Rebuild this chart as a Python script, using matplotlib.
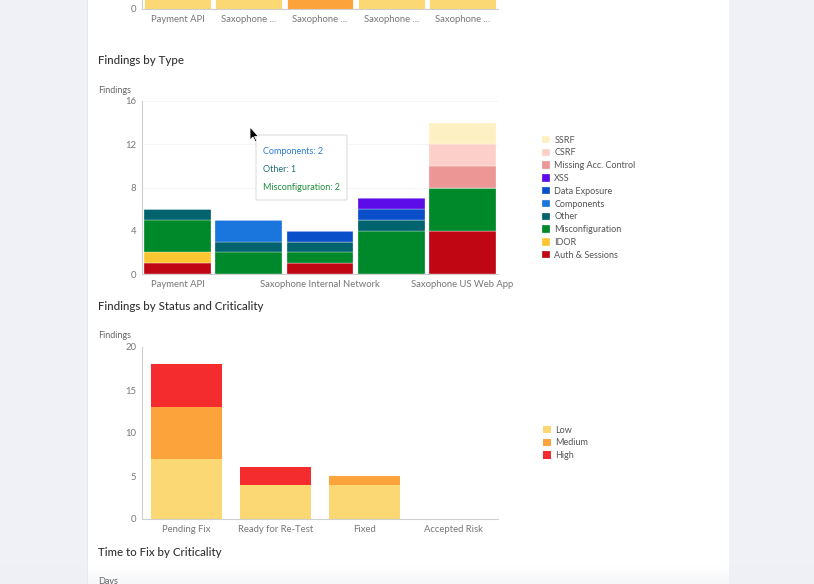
import numpy as np
import matplotlib
matplotlib.use("Agg")
import matplotlib.pyplot as plt
from matplotlib.patches import Rectangle, FancyBboxPatch, Polygon

plt.rcParams['font.family'] = ['Lato', 'DejaVu Sans']

W, H = 814, 584

# ---- data ----
assets = ["Payment API", "Saxophone External Network", "Saxophone Internal Network",
          "Saxophone Mobile App", "Saxophone US Web App"]
asset_short = ["Payment API", "Saxophone ...", "Saxophone ...", "Saxophone ...", "Saxophone ..."]

# top chart (only its bottom is visible)
crit_names = ["Low", "Medium", "High"]
asset_low = [3, 2, 0, 2, 3]
asset_medium = [2, 1, 3, 2, 1]
asset_high = [1, 2, 1, 3, 10]

# findings by type, stacked bottom -> top
type_names = ["Auth & Sessions", "IDOR", "Misconfiguration", "Other", "Components",
              "Data Exposure", "XSS", "Missing Acc. Control", "CSRF", "SSRF"]
type_values = {
    "Auth & Sessions":      [1, 0, 1, 0, 4],
    "IDOR":                 [1, 0, 0, 0, 0],
    "Misconfiguration":     [3, 2, 1, 4, 4],
    "Other":                [1, 1, 1, 1, 0],
    "Components":           [0, 2, 0, 0, 0],
    "Data Exposure":        [0, 0, 1, 1, 0],
    "XSS":                  [0, 0, 0, 1, 0],
    "Missing Acc. Control": [0, 0, 0, 0, 2],
    "CSRF":                 [0, 0, 0, 0, 2],
    "SSRF":                 [0, 0, 0, 0, 2],
}
type_colors = {
    "Auth & Sessions": "#bf0612", "IDOR": "#fcc631", "Misconfiguration": "#00892a",
    "Other": "#00636e", "Components": "#1a75dc", "Data Exposure": "#0a4fc9",
    "XSS": "#5b0ce8", "Missing Acc. Control": "#ec9696", "CSRF": "#fcd0c8",
    "SSRF": "#fdf0c2",
}

# findings by status and criticality
statuses = ["Pending Fix", "Ready for Re-Test", "Fixed", "Accepted Risk"]
status_low = [7, 4, 4, 0]
status_medium = [6, 0, 1, 0]
status_high = [5, 2, 0, 0]
crit_colors = {"Low": "#fbd874", "Medium": "#fda33b", "High": "#f42c2e"}

# tooltip content
tooltip = [("Components: 2", "#2a7bd6"), ("Other: 1", "#1f6f78"), ("Misconfiguration: 2", "#1e8f3a")]

fig = plt.figure(figsize=(W / 100, H / 100), dpi=100)
fig.patch.set_facecolor("#eff1f6")


def fx(px):
    return px / W


def fy(py):
    return 1 - py / H


# white card
fig.patches.append(Rectangle((fx(87), 0), fx(729) - fx(87), 1, transform=fig.transFigure,
                             facecolor="white", edgecolor="none", zorder=-2))
fig.patches.append(Rectangle((fx(87), 0), fx(1), 1, transform=fig.transFigure,
                             facecolor="#e6e8ee", edgecolor="none", zorder=-1))

TICK = "#777777"
SPINE = "#cfcfcf"
TITLE = "#333333"


def style_axes(ax):
    for s in ["top", "right"]:
        ax.spines[s].set_visible(False)
    for s in ["left", "bottom"]:
        ax.spines[s].set_color(SPINE)
        ax.spines[s].set_linewidth(0.8)
    ax.tick_params(length=0, labelsize=6.8, colors=TICK, pad=4)
    ax.set_facecolor("none")


# ---- top chart (cut off) ----
ax0 = fig.add_axes([fx(142), fy(9), fx(498) - fx(142), 173 / H])
bottom = np.zeros(len(assets))
for name, vals in zip(crit_names, [asset_low, asset_medium, asset_high]):
    ax0.bar(np.arange(len(assets)), vals, 0.94, bottom=bottom, color=crit_colors[name],
            edgecolor="white", linewidth=0.6)
    bottom += np.array(vals)
ax0.set_xlim(-0.5, len(assets) - 0.5)
ax0.set_ylim(0, 16)
ax0.set_yticks([0])
ax0.set_xticks(np.arange(len(assets)))
ax0.set_xticklabels(asset_short)
style_axes(ax0)

# ---- Findings by Type ----
fig.text(fx(98), fy(61), "Findings by Type", fontsize=8.3, color=TITLE, va="center", weight="medium")
fig.text(fx(98), fy(90), "Findings", fontsize=6.5, color="#666666", va="center")
ax1 = fig.add_axes([fx(142), fy(274), fx(498) - fx(142), 173 / H])
x = np.arange(len(assets))
bottom = np.zeros(len(assets))
handles = []
for name in type_names:
    vals = np.array(type_values[name])
    b = ax1.bar(x, vals, 0.94, bottom=bottom, color=type_colors[name],
                edgecolor="white", linewidth=0.2, label=name)
    handles.append(b)
    bottom += vals
ax1.set_xlim(-0.5, len(assets) - 0.5)
ax1.set_ylim(0, 16)
ax1.set_yticks([0, 4, 8, 12, 16])
ax1.set_xticks(x)
ax1.set_xticklabels([a if i % 2 == 0 else "" for i, a in enumerate(assets)])
ax1.yaxis.grid(True, color="#f5f5f5", linewidth=0.6)
ax1.set_axisbelow(True)
style_axes(ax1)
leg1 = ax1.legend(handles[::-1], type_names[::-1], loc="upper left",
                  bbox_to_anchor=(fx(538), fy(132)), bbox_transform=fig.transFigure,
                  frameon=False, fontsize=6.5, labelcolor="#555555", handlelength=0.9,
                  handleheight=0.9, handletextpad=0.5, labelspacing=0.42, borderaxespad=0)

# tooltip
fig.patches.append(FancyBboxPatch((fx(256), fy(200)), fx(347) - fx(256), fy(135) - fy(200),
                                  boxstyle="round,pad=0,rounding_size=0.002",
                                  transform=fig.transFigure, facecolor="white",
                                  edgecolor="#dddddd", linewidth=0.8, zorder=5))
for i, (t, c) in enumerate(tooltip):
    fig.text(fx(263), fy(152 + 18 * i), t, fontsize=6.5, color=c, va="center", zorder=6)

# mouse cursor
cx, cy = 250, 127
pts = [(0, 0), (0, 13), (3, 10), (5.5, 15), (7, 14.3), (4.6, 9.5), (8.5, 9.5)]
fig.patches.append(Polygon([(fx(cx + a), fy(cy + b)) for a, b in pts], closed=True,
                           transform=fig.transFigure, facecolor="black",
                           edgecolor="white", linewidth=0.6, zorder=7))

# ---- Findings by Status and Criticality ----
fig.text(fx(98), fy(306), "Findings by Status and Criticality", fontsize=8.3, color=TITLE,
         va="center", weight="medium")
fig.text(fx(98), fy(335), "Findings", fontsize=6.5, color="#666666", va="center")
ax2 = fig.add_axes([fx(142), fy(519), fx(498) - fx(142), 172 / H])
xs = np.arange(len(statuses))
bottom = np.zeros(len(statuses))
handles2 = []
for name, vals in zip(crit_names, [status_low, status_medium, status_high]):
    b = ax2.bar(xs, vals, 0.8, bottom=bottom, color=crit_colors[name], edgecolor="none")
    handles2.append(b)
    bottom += np.array(vals)
ax2.set_xlim(-0.5, len(statuses) - 0.5)
ax2.set_ylim(0, 20)
ax2.set_yticks([0, 5, 10, 15, 20])
ax2.set_xticks(xs)
ax2.set_xticklabels(statuses)
style_axes(ax2)
ax2.legend(handles2, crit_names, loc="upper left",
           bbox_to_anchor=(fx(539), fy(422)), bbox_transform=fig.transFigure,
           frameon=False, fontsize=6.5, labelcolor="#555555", handlelength=0.9,
           handleheight=0.9, handletextpad=0.5, labelspacing=0.42, borderaxespad=0)

# ---- next section heading ----
fig.text(fx(98), fy(553), "Time to Fix by Criticality", fontsize=8.3, color=TITLE,
         va="center", weight="medium")
fig.text(fx(98), fy(581), "Days", fontsize=6.5, color="#666666", va="center")

# faint fade at the bottom of the page
axg = fig.add_axes([0, 0, 1, 18 / H])
grad = np.linspace(0, 1, 50).reshape(-1, 1)
axg.imshow(np.dstack([np.full_like(grad, 0.93), np.full_like(grad, 0.94),
                      np.full_like(grad, 0.96), grad * 0.5]),
           aspect="auto", extent=[0, 1, 0, 1], origin="upper")
axg.axis("off")

fig.savefig("out.png", dpi=100, facecolor=fig.get_facecolor())
